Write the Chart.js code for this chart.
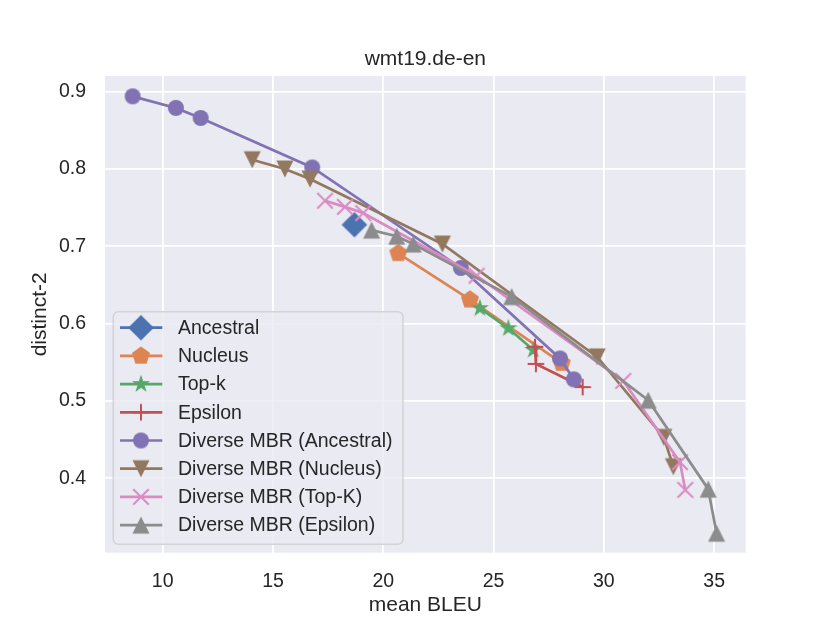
<!DOCTYPE html>
<html>
<head>
<meta charset="utf-8">
<title>wmt19.de-en</title>
<script src="https://cdn.jsdelivr.net/npm/chart.js@4.4.0/dist/chart.umd.min.js"></script>
<style>
  html, body { margin: 0; padding: 0; background: #fff; }
  #chart { display: block; }
</style>
</head>
<body>
<canvas id="chart" width="830" height="623"></canvas>
<script>
// series, in the order they are plotted (last one ends up on top)
var seriesNames = ['Ancestral', 'Nucleus', 'Top-k', 'Epsilon',
    'Diverse MBR (Ancestral)', 'Diverse MBR (Nucleus)', 'Diverse MBR (Top-K)', 'Diverse MBR (Epsilon)'];

// mean BLEU (x) and distinct-2 (y)
var ancestralX = [18.69];
var ancestralY = [0.728];
var nucleusX = [20.68, 23.93, 28.09];
var nucleusY = [0.691, 0.631, 0.549];
var topkX = [24.38, 25.67, 26.80];
var topkY = [0.620, 0.594, 0.566];
var epsilonX = [26.88, 26.92, 29.04];
var epsilonY = [0.570, 0.548, 0.518];
var dmbrAncestralX = [8.64, 10.60, 11.72, 16.78, 23.52, 28.01, 28.64];
var dmbrAncestralY = [0.894, 0.879, 0.866, 0.802, 0.672, 0.555, 0.528];
var dmbrNucleusX = [14.06, 15.54, 16.68, 22.68, 29.70, 32.72, 33.15];
var dmbrNucleusY = [0.812, 0.800, 0.787, 0.703, 0.557, 0.453, 0.415];
var dmbrTopkX = [17.36, 18.26, 19.09, 24.23, 30.88, 33.45, 33.69];
var dmbrTopkY = [0.759, 0.751, 0.743, 0.662, 0.526, 0.421, 0.385];
var dmbrEpsilonX = [19.47, 20.61, 21.36, 25.82, 32.01, 34.73, 35.11];
var dmbrEpsilonY = [0.721, 0.713, 0.703, 0.635, 0.501, 0.386, 0.329];

var xTicks = [10, 15, 20, 25, 30, 35];
var yTicks = [0.4, 0.5, 0.6, 0.7, 0.8, 0.9];

// look
var seriesX = [ancestralX, nucleusX, topkX, epsilonX, dmbrAncestralX, dmbrNucleusX, dmbrTopkX, dmbrEpsilonX];
var seriesY = [ancestralY, nucleusY, topkY, epsilonY, dmbrAncestralY, dmbrNucleusY, dmbrTopkY, dmbrEpsilonY];
var colors = ['#4C72B0', '#DD8452', '#55A868', '#C44E52', '#8172B3', '#937860', '#DA8BC3', '#8C8C8C'];
var markers = ['diamond', 'pentagon', 'star', 'plus', 'circle', 'triDown', 'x', 'triUp'];
var markerSize = { diamond: 12.8, pentagon: 9.5, star: 9.5, plus: 8.3, circle: 8, triDown: 8.5, x: 7.8, triUp: 8.5 };
var FONT = "'Liberation Sans', Arial, sans-serif";
var TEXT = '#262626';

// draw a marker into a small canvas, used as the point style
function makeMarker(kind, color, r) {
    var size = Math.ceil(2 * r + 4);
    if (size % 2) size++;
    var c = document.createElement('canvas');
    c.width = size;
    c.height = size;
    var g = c.getContext('2d');
    var m = size / 2;
    g.fillStyle = color;
    g.strokeStyle = color;
    g.lineWidth = 2;
    g.beginPath();
    if (kind == 'circle') {
        g.arc(m, m, r, 0, Math.PI * 2);
    } else if (kind == 'diamond') {
        g.moveTo(m, m - r); g.lineTo(m + r, m); g.lineTo(m, m + r); g.lineTo(m - r, m);
        g.closePath();
    } else if (kind == 'pentagon' || kind == 'star') {
        var n = kind == 'star' ? 10 : 5;
        for (var k = 0; k < n; k++) {
            var a = -Math.PI / 2 + k * 2 * Math.PI / n;
            var rr = (kind == 'star' && k % 2) ? r * 0.382 : r;
            var px = m + Math.cos(a) * rr, py = m + Math.sin(a) * rr;
            if (k == 0) g.moveTo(px, py); else g.lineTo(px, py);
        }
        g.closePath();
    } else if (kind == 'triUp') {
        g.moveTo(m, m - r); g.lineTo(m + r, m + r); g.lineTo(m - r, m + r);
        g.closePath();
    } else if (kind == 'triDown') {
        g.moveTo(m, m + r); g.lineTo(m - r, m - r); g.lineTo(m + r, m - r);
        g.closePath();
    } else if (kind == 'plus') {
        g.moveTo(m - r, m); g.lineTo(m + r, m);
        g.moveTo(m, m - r); g.lineTo(m, m + r);
    } else if (kind == 'x') {
        g.moveTo(m - r, m - r); g.lineTo(m + r, m + r);
        g.moveTo(m - r, m + r); g.lineTo(m + r, m - r);
    }
    if (kind == 'plus' || kind == 'x') g.stroke(); else g.fill();
    return c;
}

var markerImages = markers.map(function(kind, i){
    return makeMarker(kind, colors[i], markerSize[kind]);
});

var datasets = seriesNames.map(function(name, i){
    return {
        label: name,
        data: seriesX[i].map(function(x, j){ return { x: x, y: seriesY[i][j] }; }),
        showLine: true,
        borderColor: colors[i],
        backgroundColor: colors[i],
        borderWidth: 2.7,
        pointStyle: markerImages[i],
        pointRadius: 8,
        pointHoverRadius: 8,
        tension: 0,
        fill: false,
        order: seriesNames.length - i
    };
});

// background of the plot area
var bgPlugin = {
    id: 'darkgrid',
    beforeDraw: function(chart){
        var g = chart.ctx, a = chart.chartArea;
        g.save();
        g.fillStyle = '#fff';
        g.fillRect(0, 0, chart.width, chart.height);
        g.fillStyle = '#EAEAF2';
        g.fillRect(a.left, a.top, a.right - a.left, a.bottom - a.top);
        g.restore();
    }
};

// title centred over the axes, not over the canvas
var titlePlugin = {
    id: 'axesTitle',
    afterDraw: function(chart){
        var g = chart.ctx, a = chart.chartArea;
        g.save();
        g.font = '21px ' + FONT;
        g.fillStyle = TEXT;
        g.textAlign = 'center';
        g.textBaseline = 'middle';
        g.fillText('wmt19.de-en', (a.left + a.right) / 2, 59);
        g.restore();
    }
};

// matplotlib style legend box, lower left inside the axes
var legendPlugin = {
    id: 'boxLegend',
    afterDatasetsDraw: function(chart){
        var g = chart.ctx, a = chart.chartArea;
        var w = 289.7, h = 232.6;
        var left = a.left + 8.3, top = a.bottom - 8.4 - h;
        var rad = 5;
        g.save();
        g.beginPath();
        g.moveTo(left + rad, top);
        g.arcTo(left + w, top, left + w, top + h, rad);
        g.arcTo(left + w, top + h, left, top + h, rad);
        g.arcTo(left, top + h, left, top, rad);
        g.arcTo(left, top, left + w, top, rad);
        g.closePath();
        g.fillStyle = 'rgba(234,234,242,0.8)';
        g.fill();
        g.strokeStyle = 'rgba(204,204,204,0.8)';
        g.lineWidth = 1.5;
        g.stroke();

        g.font = '19.5px ' + FONT;
        g.textBaseline = 'middle';
        g.textAlign = 'left';
        for (var i = 0; i < seriesNames.length; i++) {
            var y = top + 16 + 28.2 * i;
            g.beginPath();
            g.moveTo(left + 6.7, y);
            g.lineTo(left + 49, y);
            g.strokeStyle = colors[i];
            g.lineWidth = 2.7;
            g.stroke();
            var img = markerImages[i];
            g.drawImage(img, left + 27.7 - img.width / 2, y - img.height / 2);
            g.fillStyle = TEXT;
            g.fillText(seriesNames[i], left + 64.7, y + 1);
        }
        g.restore();
    }
};

var ctx = document.getElementById('chart');
new Chart(ctx, {
    type: 'scatter',
    data: { datasets: datasets },
    options: {
        responsive: false,
        animation: false,
        layout: { padding: { left: 0, right: 84.3, top: 76, bottom: 0 } },
        plugins: {
            legend: { display: false },
            tooltip: { enabled: false },
            title: { display: false }
        },
        scales: {
            x: {
                type: 'linear',
                min: 7.385,
                max: 36.43,
                afterBuildTicks: function(s){ s.ticks = xTicks.map(function(v){ return { value: v }; }); },
                afterFit: function(s){ s.height = 70.3; },
                grid: { color: '#fff', lineWidth: 1.8, drawTicks: false },
                border: { display: false },
                ticks: {
                    padding: 17.5,
                    color: TEXT,
                    font: { family: FONT, size: 19.5 },
                    maxRotation: 0,
                    callback: function(v){ return String(v); }
                },
                title: {
                    display: true,
                    text: 'mean BLEU',
                    color: TEXT,
                    font: { family: FONT, size: 21 },
                    padding: { top: 0, bottom: 4.9 }
                }
            },
            y: {
                type: 'linear',
                min: 0.3038,
                max: 0.9203,
                afterBuildTicks: function(s){ s.ticks = yTicks.map(function(v){ return { value: v }; }); },
                afterFit: function(s){ s.width = 105; },
                grid: { color: '#fff', lineWidth: 1.8, drawTicks: false },
                border: { display: false },
                ticks: {
                    padding: 19,
                    color: TEXT,
                    font: { family: FONT, size: 19.5 },
                    callback: function(v){ return v.toFixed(1); }
                },
                title: {
                    display: true,
                    text: 'distinct-2',
                    color: TEXT,
                    font: { family: FONT, size: 21 },
                    padding: { top: 27.4, bottom: 0 }
                }
            }
        }
    },
    plugins: [bgPlugin, titlePlugin, legendPlugin]
});
</script>
</body>
</html>
